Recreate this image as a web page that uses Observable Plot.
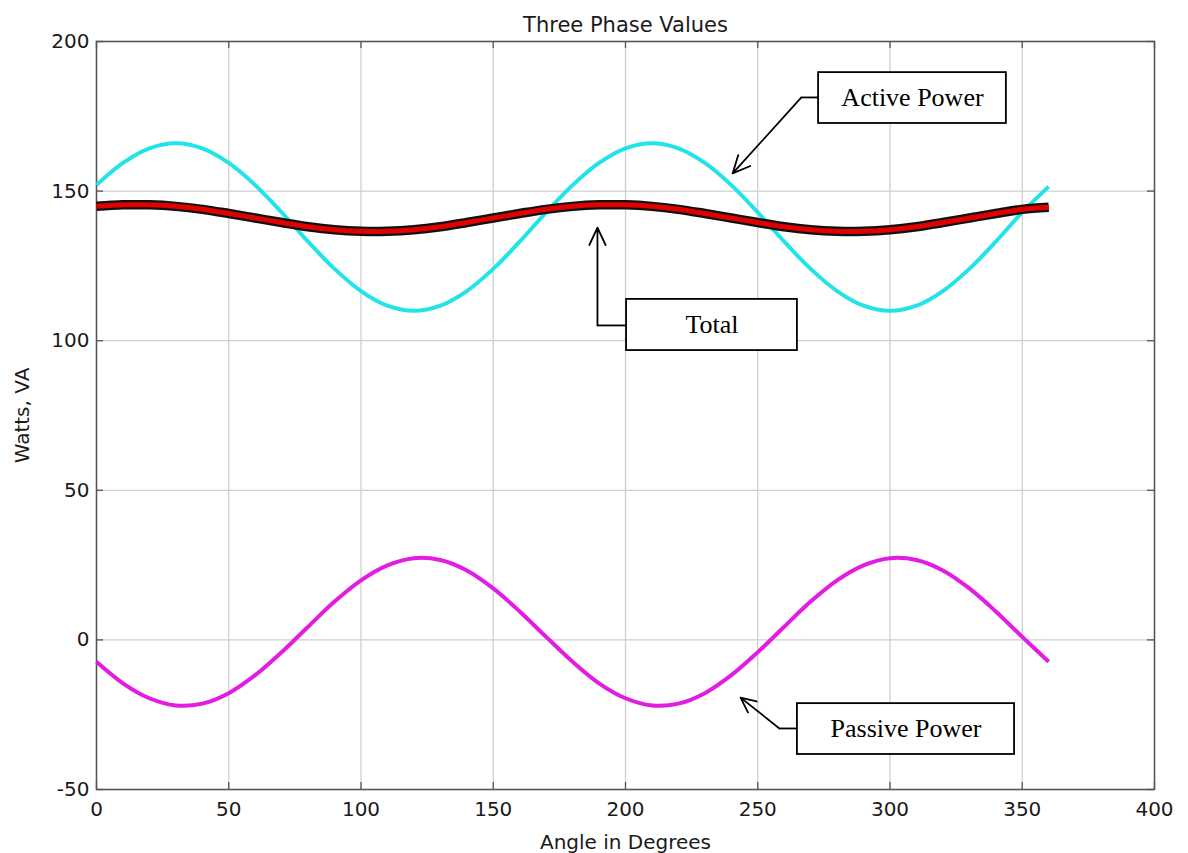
<!DOCTYPE html>
<html><head><meta charset="utf-8">
<script src="https://cdn.jsdelivr.net/npm/d3@7"></script>
<script src="https://cdn.jsdelivr.net/npm/@observablehq/plot@0.6"></script>
<style>body{margin:0;background:#fff}#chart svg{display:block}</style>
</head><body><div id="chart"></div>
<script>
// ---- data ----
const angles  = [0,10,20,30,40,50,60,70,80,90,100,110,120,130,140,150,160,170,180,190,200,210,220,230,240,250,260,270,280,290,300,310,320,330,340,350,360];
const activePower  = [152,159.4,164.3,166,164.3,159.4,152,142.9,133.1,124,116.6,111.7,110,111.7,116.6,124,133.1,142.9,152,159.4,164.3,166,164.3,159.4,152,142.9,133.1,124,116.6,111.7,110,111.7,116.6,124,133.1,142.9,151.5];
const totalPower   = [144.9,145.4,145.4,144.9,143.9,142.5,141,139.5,138.1,137.1,136.6,136.6,137.1,138.1,139.5,141,142.5,143.9,144.9,145.4,145.4,144.9,143.9,142.5,141,139.5,138.1,137.1,136.6,136.6,137.1,138.1,139.5,141,142.5,143.9,144.6];
const passivePower = [-7.3,-14.5,-19.5,-21.9,-21.3,-17.8,-11.8,-4.1,4.4,12.8,19.9,24.9,27.3,26.7,23.2,17.2,9.5,1.0,-7.3,-14.5,-19.5,-21.9,-21.3,-17.8,-11.8,-4.1,4.4,12.8,19.9,24.9,27.3,26.7,23.2,17.2,9.5,1.0,-7.3];

const xTicks = [0,50,100,150,200,250,300,350,400];
const yTicks = [-50,0,50,100,150,200];

const title = "Three Phase Values";
const xLabel = "Angle in Degrees";
const yLabel = "Watts, VA";

// annotation boxes (data units)
const boxLabels = ["Active Power","Total","Passive Power"];
const boxX1 = [273.0, 200.4, 265.0];
const boxX2 = [344.0, 265.0, 347.1];
const boxY1 = [172.6, 96.7, -38.3];
const boxY2 = [189.6, 113.8, -21.3];
// leader segments from box to elbow
const leadX1 = [273.0, 200.4, 265.0];
const leadY1 = [181.3, 105.1, -29.6];
const leadX2 = [266.5, 189.4, 258.2];
const leadY2 = [181.3, 105.1, -29.6];
// arrows from elbow to target
const arrX2 = [240.5, 189.4, 243.5];
const arrY2 = [155.9, 137.8, -19.3];

// ---- build tables ----
const series = angles.map((a,i)=>({a, active:activePower[i], total:totalPower[i], passive:passivePower[i]}));
const boxes = boxLabels.map((label,i)=>({label, x1:boxX1[i], x2:boxX2[i], y1:boxY1[i], y2:boxY2[i]}));
const leaders = boxLabels.map((l,i)=>({x1:leadX1[i], y1:leadY1[i], x2:leadX2[i], y2:leadY2[i]}));
const arrows = boxLabels.map((l,i)=>({x1:leadX2[i], y1:leadY2[i], x2:arrX2[i], y2:arrY2[i]}));

const W = 1188, H = 853, mL = 96, mR = 34, mT = 41, mB = 64;
const plotW = W - mL - mR, plotH = H - mT - mB, tk = 7;
const axisColor = "#555";
const fmt = d => String(d); // ASCII hyphen-minus like the reference

const chart = Plot.plot({
  width: W, height: H,
  marginLeft: mL, marginRight: mR, marginTop: mT, marginBottom: mB,
  style: {fontFamily: "DejaVu Sans, sans-serif", fontSize: "20px", color: "#1a1a1a", background: "#fff"},
  x: {domain: [0, 400]},
  y: {domain: [-50, 200]},
  marks: [
    Plot.gridX(xTicks, {stroke: "#cfcfcf", strokeOpacity: 1, strokeWidth: 1.3}),
    Plot.gridY(yTicks, {stroke: "#cfcfcf", strokeOpacity: 1, strokeWidth: 1.3}),
    // inward ticks
    Plot.tickX(xTicks, {x: d => d, insetTop: plotH - tk, stroke: axisColor, strokeWidth: 1.3}),
    Plot.tickX(xTicks, {x: d => d, insetBottom: plotH - tk, stroke: axisColor, strokeWidth: 1.3}),
    Plot.tickY(yTicks, {y: d => d, insetRight: plotW - tk, stroke: axisColor, strokeWidth: 1.3}),
    Plot.tickY(yTicks, {y: d => d, insetLeft: plotW - tk, stroke: axisColor, strokeWidth: 1.3}),
    Plot.frame({stroke: axisColor, strokeWidth: 1.5}),
    Plot.axisX(xTicks, {anchor: "bottom", tickSize: 0, tickPadding: 12, tickFormat: fmt, fontSize: 20, label: xLabel, labelAnchor: "center", labelArrow: "none", labelOffset: 59, fill: "#1a1a1a"}),
    Plot.axisY(yTicks, {anchor: "left", tickSize: 0, tickPadding: 7, tickFormat: fmt, fontSize: 20, label: yLabel, labelAnchor: "center", labelArrow: "none", labelOffset: 82, fill: "#1a1a1a"}),
    Plot.text([title], {frameAnchor: "top", dy: -24, fontSize: 21, fill: "#1a1a1a"}),
    // series
    Plot.line(series, {x: "a", y: "active", stroke: "#22e4e8", strokeWidth: 4, curve: "catmull-rom", strokeLinecap: "butt"}),
    Plot.line(series, {x: "a", y: "total", stroke: "#111", strokeWidth: 9.5, curve: "catmull-rom", strokeLinecap: "butt"}),
    Plot.line(series, {x: "a", y: "total", stroke: "#e00000", strokeWidth: 5, curve: "catmull-rom", strokeLinecap: "butt"}),
    Plot.line(series, {x: "a", y: "passive", stroke: "#e21ce2", strokeWidth: 4, curve: "catmull-rom", strokeLinecap: "butt"}),
    // annotations
    Plot.link(leaders, {x1: "x1", y1: "y1", x2: "x2", y2: "y2", stroke: "#000", strokeWidth: 1.8}),
    Plot.arrow(arrows, {x1: "x1", y1: "y1", x2: "x2", y2: "y2", stroke: "#000", strokeWidth: 1.8, headLength: 16, headAngle: 50}),
    Plot.rect(boxes, {x1: "x1", x2: "x2", y1: "y1", y2: "y2", fill: "#fff", stroke: "#000", strokeWidth: 1.8}),
    Plot.text(boxes, {x: d => (d.x1 + d.x2) / 2, y: d => (d.y1 + d.y2) / 2, text: "label", fontFamily: "Liberation Serif, Times New Roman, serif", fontSize: 26, fill: "#000"})
  ]
});
document.getElementById("chart").append(chart);
</script>
</body></html>
